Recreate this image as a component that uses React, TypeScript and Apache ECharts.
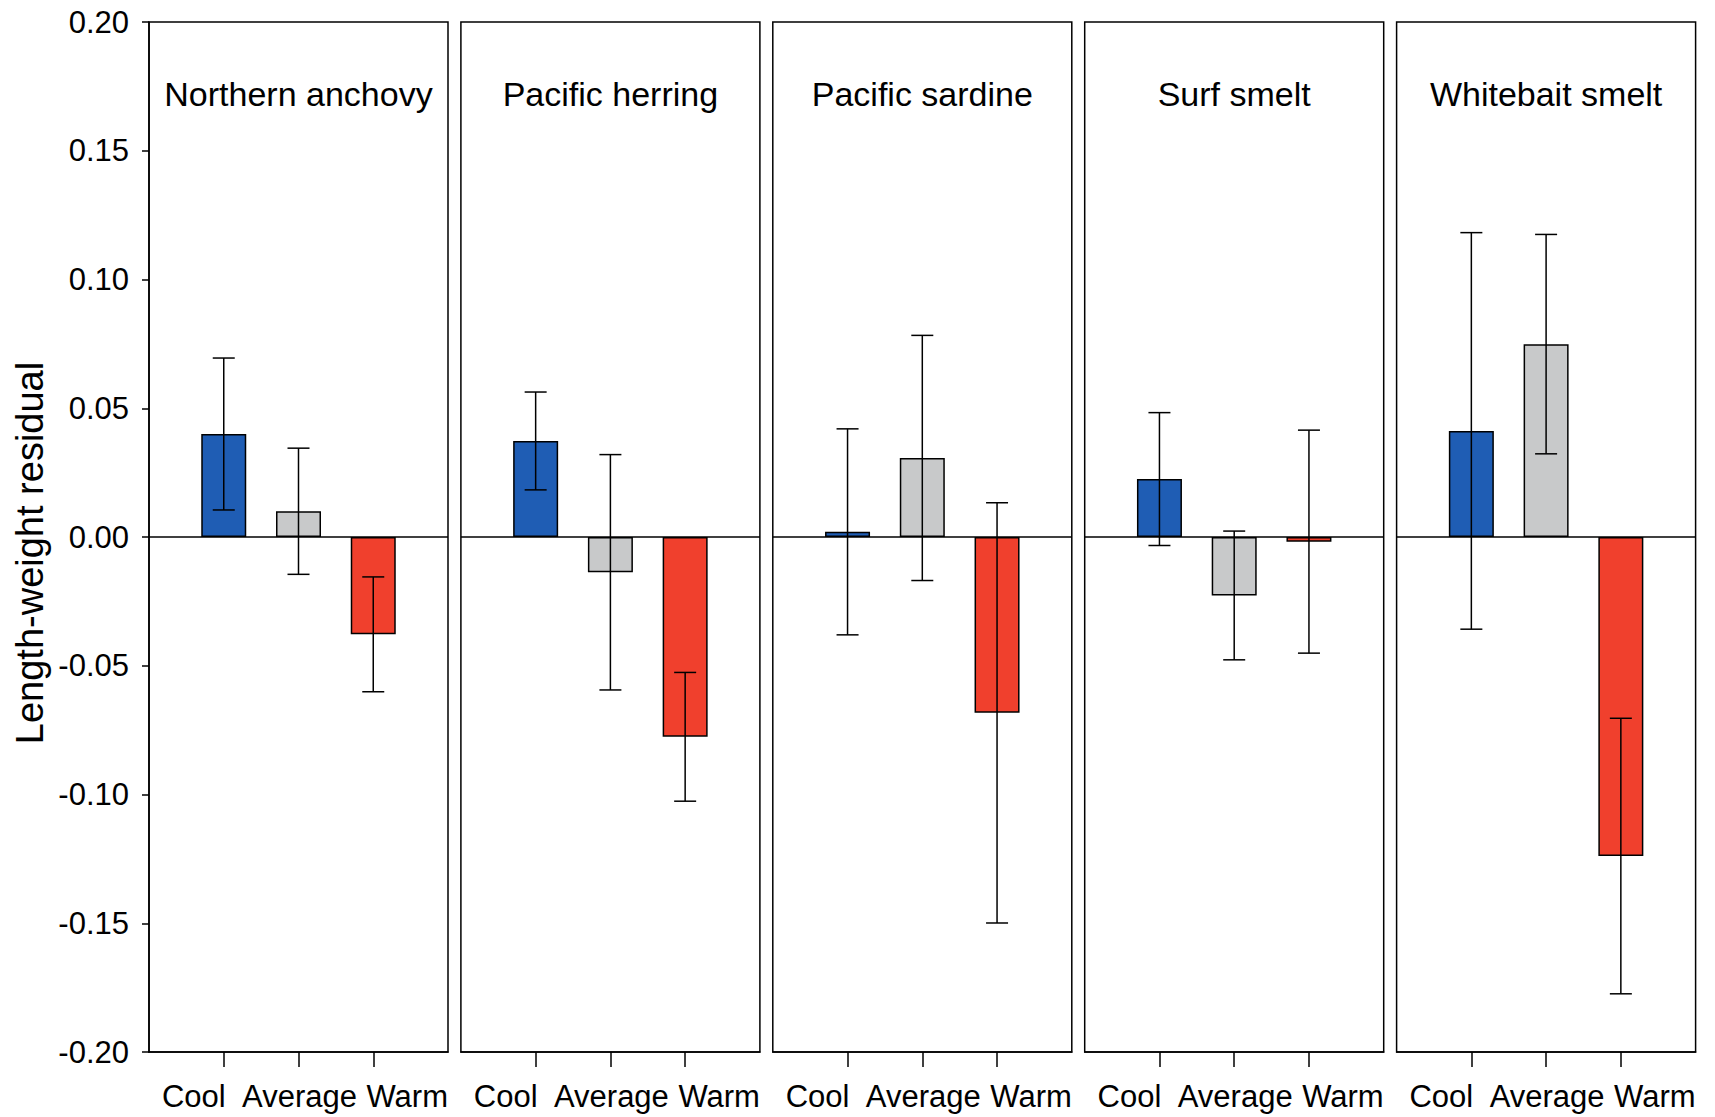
import React, { useEffect, useRef } from "react";
import * as echarts from "echarts";

const species = ["Northern anchovy", "Pacific herring", "Pacific sardine", "Surf smelt", "Whitebait smelt"];
const categories = ["", "Cool", "Average", "Warm", ""];
const coolMean = [0.040, 0.0373, 0.002, 0.0225, 0.0412];
const coolErr = [0.0295, 0.019, 0.040, 0.0258, 0.077];
const avgMean = [0.010, -0.0137, 0.0307, -0.0227, 0.0749];
const avgErr = [0.0245, 0.0457, 0.0476, 0.025, 0.0426];
const warmMean = [-0.0378, -0.0776, -0.0683, -0.0018, -0.1239];
const warmErr = [0.0223, 0.025, 0.0816, 0.0433, 0.0535];
const yTicks = { min: -0.2, max: 0.2, interval: 0.05 };
const yTitle = "Length-weight residual";

const FONT = '"Liberation Sans", Arial, Helvetica, sans-serif';
const COLORS = ["#1f5db4", "#c8c9ca", "#f0402d"];

export default function App() {
  const ref = useRef<HTMLDivElement>(null);
  useEffect(() => {
    document.body.style.margin = "0";
    const chart = echarts.init(ref.current!, null, { renderer: "svg" });
    const W = 299;
    const TOP = 22;
    const H = 1030;
    const lefts = species.map((_, i) => 149 + 311.9 * i);

    const grid = lefts.map((l) => ({
      left: l,
      top: TOP,
      width: W,
      height: H,
      show: true,
      borderColor: "#000",
      borderWidth: 1.5,
      backgroundColor: "transparent",
    }));

    const xAxis = species.map((_, i) => ({
      type: "category",
      gridIndex: i,
      data: categories,
      boundaryGap: false,
      axisLine: { show: true, onZero: false, lineStyle: { color: "#000", width: 1.5 } },
      axisTick: {
        show: true,
        length: 15,
        lineStyle: { color: "#000", width: 1.5 },
        interval: (idx: number) => idx >= 1 && idx <= 3,
      },
      axisLabel: {
        show: true,
        interval: 0,
        margin: 29,
        color: "#000",
        fontFamily: FONT,
        fontSize: 31,
        formatter: (v: string) =>
          v === "Cool" ? "{c|Cool}" : v === "Average" ? "{a|Average}" : v === "Warm" ? "{w|Warm}" : "",
        rich: {
          c: { fontFamily: FONT, fontSize: 31, color: "#000", padding: [0, 60, 0, 0] },
          a: { fontFamily: FONT, fontSize: 31, color: "#000", padding: [0, 0, 0, 2] },
          w: { fontFamily: FONT, fontSize: 31, color: "#000", padding: [0, 0, 0, 68] },
        },
      },
      splitLine: { show: false },
    }));

    const yAxis = species.map((_, i) => ({
      type: "value",
      gridIndex: i,
      min: yTicks.min,
      max: yTicks.max,
      interval: yTicks.interval,
      show: i === 0,
      axisLine: { show: true, lineStyle: { color: "#000", width: 1.5 } },
      axisTick: { show: true, length: 7, lineStyle: { color: "#000", width: 1.5 } },
      axisLabel: {
        show: true,
        margin: 20,
        color: "#000",
        fontFamily: FONT,
        fontSize: 31,
        formatter: (v: number) => (Math.abs(v) < 1e-9 ? "0.00" : v.toFixed(2)),
      },
      splitLine: { show: false },
    }));

    const series: any[] = [];
    species.forEach((_, i) => {
      const means = [coolMean[i], avgMean[i], warmMean[i]];
      const errs = [coolErr[i], avgErr[i], warmErr[i]];
      series.push({
        type: "bar",
        xAxisIndex: i,
        yAxisIndex: i,
        barWidth: 45,
        data: [
          "-",
          ...means.map((m, k) => ({
            value: m,
            itemStyle: { color: COLORS[k], borderColor: "#000", borderWidth: 1.5 },
          })),
          "-",
        ],
        markLine: {
          silent: true,
          symbol: ["none", "none"],
          label: { show: false },
          lineStyle: { color: "#000", width: 1.5, type: "solid" },
          data: [{ yAxis: 0 }],
        },
        z: 2,
      });
      series.push({
        type: "custom",
        xAxisIndex: i,
        yAxisIndex: i,
        z: 4,
        encode: { x: 0, y: [1, 2] },
        data: means.map((m, k) => [k + 1, m - errs[k], m + errs[k]]),
        renderItem: (params: any, api: any) => {
          const x = api.value(0);
          const top = api.coord([x, api.value(2)]);
          const bot = api.coord([x, api.value(1)]);
          const hw = 11;
          const st = { stroke: "#000", lineWidth: 1.5 };
          return {
            type: "group",
            children: [
              { type: "line", shape: { x1: top[0], y1: top[1], x2: bot[0], y2: bot[1] }, style: st },
              { type: "line", shape: { x1: top[0] - hw, y1: top[1], x2: top[0] + hw, y2: top[1] }, style: st },
              { type: "line", shape: { x1: bot[0] - hw, y1: bot[1], x2: bot[0] + hw, y2: bot[1] }, style: st },
            ],
          };
        },
      });
    });

    const graphic: any[] = species.map((s, i) => ({
      type: "text",
      x: lefts[i] + W / 2,
      y: 94,
      style: {
        text: s,
        fill: "#000",
        font: `34px ${FONT}`,
        fontSize: 34,
        fontFamily: FONT,
        textAlign: "center",
        textVerticalAlign: "middle",
        align: "center",
        verticalAlign: "middle",
      },
      z: 10,
    }));
    graphic.push({
      type: "text",
      x: 30,
      y: 553,
      rotation: Math.PI / 2,
      style: {
        text: yTitle,
        fill: "#000",
        font: `38px ${FONT}`,
        fontSize: 38,
        fontFamily: FONT,
        textAlign: "center",
        textVerticalAlign: "middle",
        align: "center",
        verticalAlign: "middle",
      },
      z: 10,
    });

    chart.setOption({
      animation: false,
      backgroundColor: "#fff",
      grid,
      xAxis,
      yAxis,
      series,
      graphic,
    } as any);
    return () => chart.dispose();
  }, []);
  return <div ref={ref} style={{ position: "absolute", left: 0, top: 0, width: 1715, height: 1117 }} />;
}
